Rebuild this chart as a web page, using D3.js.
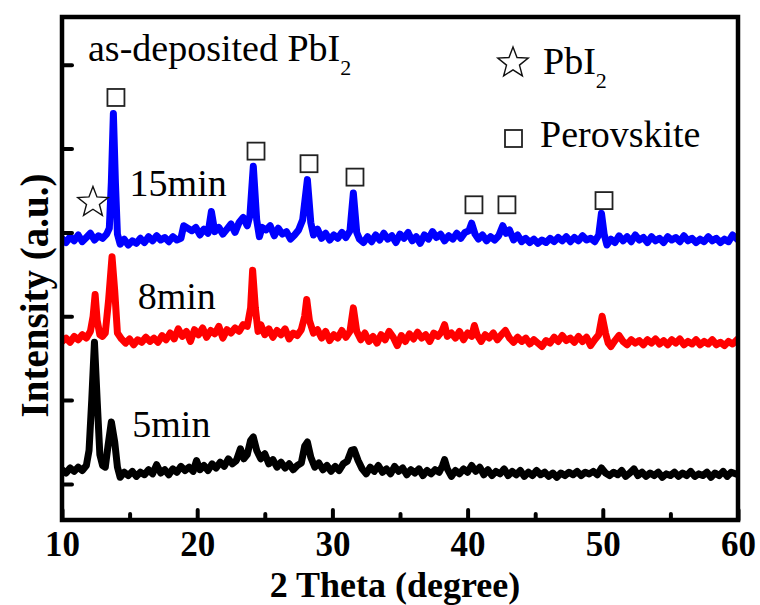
<!DOCTYPE html>
<html>
<head>
<meta charset="utf-8">
<script src="https://cdn.jsdelivr.net/npm/d3@7"></script>
<style>
  body { margin: 0; background: #fff; }
  svg { display: block; }
</style>
</head>
<body>
<svg id="chart" width="760" height="605"></svg>
<script>
// 2θ (degree) vs intensity (a.u., stacked)
const scan15 = [[10,2.93],[10.3,2.88],[10.6,2.95],[10.9,2.9],[11.2,2.97],[11.5,2.89],[11.8,2.94],[12.1,2.99],[12.4,2.91],[12.7,2.96],[13,2.93],[13.3,2.98],[13.5,3.05],[13.65,3.6],[13.8,4.42],[13.95,3.6],[14.1,2.98],[14.3,2.86],[14.6,2.92],[14.9,2.85],[15.2,2.9],[15.5,2.87],[15.8,2.93],[16.1,2.88],[16.4,2.95],[16.7,2.9],[17,2.96],[17.3,2.91],[17.6,2.94],[17.9,2.89],[18.2,2.95],[18.5,2.91],[18.8,2.93],[19,3.08],[19.3,3.05],[19.6,3.02],[19.9,3.06],[20.2,2.97],[20.5,3.04],[20.8,2.99],[21.05,3.25],[21.3,3.01],[21.6,3.06],[21.9,2.98],[22.2,3.04],[22.5,3.1],[22.8,3],[23.1,3.12],[23.4,3.18],[23.7,3.08],[23.9,3.2],[24.15,3.79],[24.4,3.15],[24.6,2.95],[24.8,3.06],[25.1,3.03],[25.4,3.08],[25.7,2.96],[26,3.05],[26.3,2.98],[26.6,3.01],[26.9,2.92],[27.2,2.97],[27.5,3.03],[27.8,3.15],[28.15,3.63],[28.4,3.12],[28.6,2.97],[28.9,3.04],[29.2,2.93],[29.5,2.99],[29.8,2.91],[30.1,2.97],[30.4,2.93],[30.7,3],[31,2.94],[31.3,3.02],[31.55,3.47],[31.8,3],[32,2.92],[32.3,2.88],[32.6,2.95],[32.9,2.89],[33.2,2.97],[33.5,2.91],[33.8,2.99],[34.1,2.92],[34.4,2.96],[34.7,2.88],[35,2.98],[35.3,2.93],[35.6,3],[35.9,2.9],[36.2,2.95],[36.5,2.87],[36.8,2.97],[37.1,2.92],[37.4,3.01],[37.7,2.94],[38,2.98],[38.3,2.9],[38.6,2.96],[38.9,2.92],[39.2,2.99],[39.5,2.93],[39.8,3],[40.1,3.02],[40.3,3.11],[40.55,2.98],[40.8,2.92],[41.1,2.97],[41.4,2.9],[41.7,2.95],[42,2.91],[42.3,2.96],[42.6,3.08],[42.85,2.99],[43.1,3.03],[43.4,2.91],[43.7,2.97],[44,2.89],[44.3,2.93],[44.6,2.88],[44.9,2.92],[45.2,2.87],[45.5,2.91],[45.8,2.88],[46.1,2.93],[46.4,2.89],[46.7,2.94],[47,2.9],[47.3,2.95],[47.6,2.89],[47.9,2.94],[48.2,2.9],[48.5,2.96],[48.8,2.91],[49.1,2.93],[49.4,2.89],[49.7,2.97],[49.9,3.23],[50.1,2.98],[50.3,2.85],[50.6,2.92],[50.9,2.88],[51.2,2.96],[51.5,2.9],[51.8,2.95],[52.1,2.89],[52.4,2.97],[52.7,2.91],[53,2.94],[53.3,2.88],[53.6,2.95],[53.9,2.9],[54.2,2.93],[54.5,2.88],[54.8,2.95],[55.1,2.91],[55.4,2.94],[55.7,2.89],[56,2.96],[56.3,2.9],[56.6,2.93],[56.9,2.88],[57.2,2.92],[57.5,2.89],[57.8,2.95],[58.1,2.9],[58.4,2.93],[58.7,2.88],[59,2.92],[59.3,2.89],[59.6,2.97],[60,2.91]];

const scan8 = [[10,1.7],[10.3,1.74],[10.6,1.69],[10.9,1.76],[11.2,1.72],[11.5,1.78],[11.8,1.74],[12.1,1.82],[12.3,2],[12.45,2.26],[12.6,1.95],[12.8,1.78],[13,1.76],[13.2,1.8],[13.45,2.2],[13.7,2.71],[13.9,2.3],[14.1,1.8],[14.4,1.73],[14.7,1.68],[15,1.73],[15.3,1.66],[15.6,1.72],[15.9,1.69],[16.2,1.75],[16.5,1.7],[16.8,1.74],[17.1,1.69],[17.4,1.77],[17.7,1.72],[18,1.8],[18.3,1.73],[18.6,1.85],[18.9,1.76],[19.2,1.82],[19.5,1.7],[19.8,1.84],[20.1,1.78],[20.4,1.86],[20.7,1.75],[21,1.83],[21.3,1.79],[21.6,1.88],[21.9,1.74],[22.2,1.84],[22.5,1.8],[22.8,1.86],[23.1,1.82],[23.4,1.9],[23.7,1.88],[23.95,2.1],[24.1,2.55],[24.3,2.1],[24.5,1.82],[24.7,1.9],[25,1.78],[25.3,1.85],[25.6,1.75],[25.9,1.83],[26.2,1.78],[26.5,1.85],[26.8,1.73],[27.1,1.8],[27.4,1.77],[27.7,1.84],[27.95,2],[28.1,2.2],[28.3,1.95],[28.6,1.8],[28.9,1.84],[29.2,1.74],[29.5,1.82],[29.8,1.71],[30.1,1.78],[30.4,1.74],[30.7,1.83],[31,1.75],[31.3,1.82],[31.55,2.1],[31.8,1.82],[32.1,1.72],[32.4,1.8],[32.7,1.7],[33,1.76],[33.3,1.68],[33.6,1.78],[33.9,1.72],[34.2,1.82],[34.5,1.75],[34.8,1.65],[35.1,1.77],[35.4,1.7],[35.7,1.79],[36,1.73],[36.3,1.81],[36.6,1.74],[36.9,1.78],[37.2,1.7],[37.5,1.8],[37.8,1.76],[38.1,1.82],[38.3,1.9],[38.5,1.76],[38.8,1.8],[39.1,1.74],[39.4,1.82],[39.7,1.72],[40,1.8],[40.3,1.76],[40.5,1.89],[40.7,1.78],[41,1.7],[41.3,1.78],[41.6,1.74],[41.9,1.8],[42.2,1.72],[42.5,1.78],[42.8,1.83],[43.1,1.74],[43.4,1.69],[43.7,1.75],[44,1.7],[44.3,1.74],[44.6,1.67],[44.9,1.72],[45.2,1.68],[45.5,1.64],[45.8,1.71],[46.1,1.68],[46.4,1.75],[46.7,1.7],[47,1.77],[47.3,1.71],[47.6,1.74],[47.9,1.69],[48.2,1.76],[48.5,1.7],[48.8,1.75],[49.1,1.65],[49.4,1.72],[49.7,1.78],[49.95,2],[50.2,1.8],[50.4,1.68],[50.6,1.64],[50.9,1.71],[51.2,1.77],[51.5,1.7],[51.8,1.66],[52.1,1.72],[52.4,1.68],[52.7,1.71],[53,1.66],[53.3,1.72],[53.6,1.68],[53.9,1.73],[54.2,1.67],[54.5,1.71],[54.8,1.66],[55.1,1.72],[55.4,1.68],[55.7,1.73],[56,1.66],[56.3,1.7],[56.6,1.67],[56.9,1.72],[57.2,1.66],[57.5,1.7],[57.8,1.67],[58.1,1.72],[58.4,1.66],[58.7,1.69],[59,1.65],[59.3,1.7],[59.6,1.67],[60,1.73]];

const scan5 = [[10,0.17],[10.3,0.13],[10.6,0.19],[10.9,0.15],[11.2,0.2],[11.5,0.16],[11.8,0.22],[12,0.4],[12.2,1],[12.4,1.69],[12.6,1],[12.8,0.35],[13,0.22],[13.2,0.2],[13.4,0.45],[13.65,0.74],[13.9,0.5],[14.1,0.2],[14.3,0.08],[14.6,0.14],[14.9,0.1],[15.2,0.15],[15.5,0.09],[15.8,0.14],[16.1,0.11],[16.4,0.17],[16.7,0.12],[17,0.23],[17.3,0.13],[17.6,0.17],[17.9,0.11],[18.2,0.18],[18.5,0.14],[18.8,0.21],[19.1,0.16],[19.4,0.2],[19.7,0.15],[19.95,0.28],[20.2,0.17],[20.5,0.22],[20.8,0.16],[21.1,0.24],[21.4,0.19],[21.7,0.26],[22,0.21],[22.3,0.3],[22.6,0.24],[22.9,0.28],[23.2,0.42],[23.45,0.3],[23.7,0.35],[23.95,0.52],[24.15,0.56],[24.4,0.4],[24.7,0.3],[25,0.36],[25.3,0.24],[25.6,0.29],[25.9,0.2],[26.2,0.26],[26.5,0.19],[26.8,0.24],[27.1,0.17],[27.4,0.22],[27.7,0.25],[27.95,0.45],[28.15,0.5],[28.4,0.32],[28.7,0.2],[29,0.25],[29.3,0.17],[29.6,0.22],[29.9,0.15],[30.2,0.21],[30.5,0.16],[30.8,0.24],[31.1,0.27],[31.4,0.4],[31.6,0.41],[31.9,0.28],[32.2,0.18],[32.5,0.12],[32.8,0.2],[33.1,0.15],[33.4,0.22],[33.7,0.14],[34,0.18],[34.3,0.12],[34.6,0.21],[34.9,0.15],[35.2,0.19],[35.5,0.11],[35.8,0.17],[36.1,0.13],[36.4,0.18],[36.7,0.1],[37,0.16],[37.3,0.12],[37.6,0.17],[37.9,0.14],[38.15,0.22],[38.3,0.29],[38.5,0.18],[38.8,0.09],[39.1,0.16],[39.4,0.12],[39.7,0.18],[40,0.14],[40.3,0.22],[40.6,0.15],[40.9,0.2],[41.2,0.11],[41.5,0.17],[41.8,0.1],[42.1,0.15],[42.4,0.12],[42.7,0.18],[43,0.1],[43.3,0.15],[43.6,0.11],[43.9,0.16],[44.2,0.09],[44.5,0.14],[44.8,0.1],[45.1,0.16],[45.4,0.11],[45.7,0.14],[46,0.09],[46.3,0.13],[46.6,0.08],[46.9,0.13],[47.2,0.1],[47.5,0.14],[47.8,0.11],[48.1,0.15],[48.4,0.1],[48.7,0.14],[49,0.12],[49.3,0.15],[49.6,0.11],[49.9,0.19],[50.2,0.13],[50.5,0.1],[50.8,0.14],[51.1,0.11],[51.4,0.16],[51.7,0.09],[52,0.13],[52.3,0.18],[52.6,0.1],[52.9,0.14],[53.2,0.09],[53.5,0.13],[53.8,0.1],[54.1,0.14],[54.4,0.08],[54.7,0.12],[55,0.1],[55.3,0.14],[55.6,0.09],[55.9,0.13],[56.2,0.1],[56.5,0.15],[56.8,0.09],[57.1,0.12],[57.4,0.1],[57.7,0.14],[58,0.08],[58.3,0.13],[58.6,0.1],[58.9,0.15],[59.2,0.09],[59.5,0.14],[60,0.11]];

const seriesNames = ['15min', '8min', '5min'];
const seriesColors = ['#0000ff', '#ff0000', '#000000'];
// label anchor [2θ, intensity] for each curve
const seriesLabelPos = [[15.0, 3.43], [15.6, 2.09], [15.2, 0.56]];

// peak markers [2θ, intensity]
const perovskiteMarks = [[13.99, 4.61], [24.35, 3.97], [28.27, 3.82], [31.67, 3.66], [40.47, 3.33], [42.91, 3.33], [50.09, 3.38]];
const pbi2Marks = [[12.29, 3.37]];

const xMajor = [10, 20, 30, 40, 50, 60];
const xMinor = [15, 25, 35, 45, 55];
const yTicks = [0, 1, 2, 3, 4, 5];

const svg = d3.select('#chart');
const L = 62, R = 738, T = 17, B = 520;
const font = '"Liberation Serif", "Times New Roman", serif';

const x = d3.scaleLinear().domain([10, 60]).range([L, R]);
const y = d3.scaleLinear().domain([-0.43, 5.57]).range([B, T]);

svg.append('clipPath').attr('id', 'plot')
  .append('rect').attr('x', L).attr('y', T).attr('width', R - L).attr('height', B - T);

const line = d3.line().x(d => x(d[0])).y(d => y(d[1]));
const scans = [scan15, scan8, scan5];

// bottom curve first so the upper ones sit on top
const g = svg.append('g').attr('clip-path', 'url(#plot)');
[2, 1, 0].forEach(i => {
  g.append('path')
    .datum(scans[i])
    .attr('d', line)
    .attr('fill', 'none')
    .attr('stroke', seriesColors[i])
    .attr('stroke-width', 7)
    .attr('stroke-linejoin', 'round')
    .attr('stroke-linecap', 'round');
});

// axes, ticks pointing inward
function styleAxis(sel) {
  sel.select('.domain').remove();
  sel.selectAll('.tick line')
    .attr('stroke', '#000')
    .attr('stroke-width', 4)
    .attr('stroke-linecap', 'round');
}

svg.append('g').attr('transform', `translate(0,${B})`)
  .call(d3.axisBottom(x).tickValues(xMajor).tickSize(-10).tickPadding(11).tickFormat(d3.format('d')))
  .call(styleAxis)
  .call(s => s.selectAll('text')
    .attr('fill', '#000')
    .style('font-family', font)
    .style('font-weight', 'bold')
    .style('font-size', '35px'));

svg.append('g').attr('transform', `translate(0,${B})`)
  .call(d3.axisBottom(x).tickValues(xMinor).tickSize(-6).tickFormat(''))
  .call(styleAxis);

svg.append('g').attr('transform', `translate(${L},0)`)
  .call(d3.axisLeft(y).tickValues(yTicks).tickSize(-10).tickFormat(''))
  .call(styleAxis);

svg.append('rect')
  .attr('x', L).attr('y', T).attr('width', R - L).attr('height', B - T)
  .attr('fill', 'none').attr('stroke', '#000').attr('stroke-width', 4.5);

// axis titles
svg.append('text')
  .attr('x', (L + R) / 2 - 5).attr('y', 597)
  .attr('text-anchor', 'middle')
  .style('font-family', font).style('font-weight', 'bold').style('font-size', '36px')
  .text('2 Theta (degree)');

svg.append('text')
  .attr('transform', `translate(48,${(T + B) / 2 + 27}) rotate(-90)`)
  .attr('text-anchor', 'middle')
  .style('font-family', font).style('font-weight', 'bold').style('font-size', '39px')
  .text('Intensity (a.u.)');

// curve labels
seriesNames.forEach((name, i) => {
  svg.append('text')
    .attr('x', x(seriesLabelPos[i][0])).attr('y', y(seriesLabelPos[i][1]))
    .style('font-family', font).style('font-size', '38px')
    .text(name);
});

// title
const title = svg.append('text').attr('x', 88).attr('y', 61)
  .style('font-family', font).style('font-size', '38px');
title.append('tspan').text('as-deposited PbI');
title.append('tspan').attr('dy', 14).style('font-size', '22px').text('2');

// peak markers
function starPath(cx, cy, ro, ri) {
  const pts = d3.range(10).map(k => {
    const a = -Math.PI / 2 + k * Math.PI / 5;
    const r = k % 2 ? ri : ro;
    return [cx + r * Math.cos(a), cy + r * Math.sin(a)];
  });
  return 'M' + pts.join('L') + 'Z';
}
const sq = 17;
svg.append('g').selectAll('rect').data(perovskiteMarks).join('rect')
  .attr('x', d => x(d[0]) - sq / 2).attr('y', d => y(d[1]) - sq / 2)
  .attr('width', sq).attr('height', sq)
  .attr('fill', '#fff').attr('stroke', '#222').attr('stroke-width', 1.8);

svg.append('g').selectAll('path').data(pbi2Marks).join('path')
  .attr('d', d => starPath(x(d[0]), y(d[1]) + 1, 16, 6.8))
  .attr('fill', '#fff').attr('stroke', '#111').attr('stroke-width', 1.4);

// legend
svg.append('path').attr('d', starPath(513, 63, 16, 6.8))
  .attr('fill', '#fff').attr('stroke', '#111').attr('stroke-width', 1.4);
const lt = svg.append('text').attr('x', 543).attr('y', 74)
  .style('font-family', font).style('font-size', '38px');
lt.append('tspan').text('PbI');
lt.append('tspan').attr('dy', 14).style('font-size', '22px').text('2');

svg.append('rect').attr('x', 505).attr('y', 130).attr('width', sq).attr('height', sq)
  .attr('fill', '#fff').attr('stroke', '#222').attr('stroke-width', 1.8);
svg.append('text').attr('x', 540).attr('y', 147)
  .style('font-family', font).style('font-size', '38px')
  .text('Perovskite');
</script>
</body>
</html>
